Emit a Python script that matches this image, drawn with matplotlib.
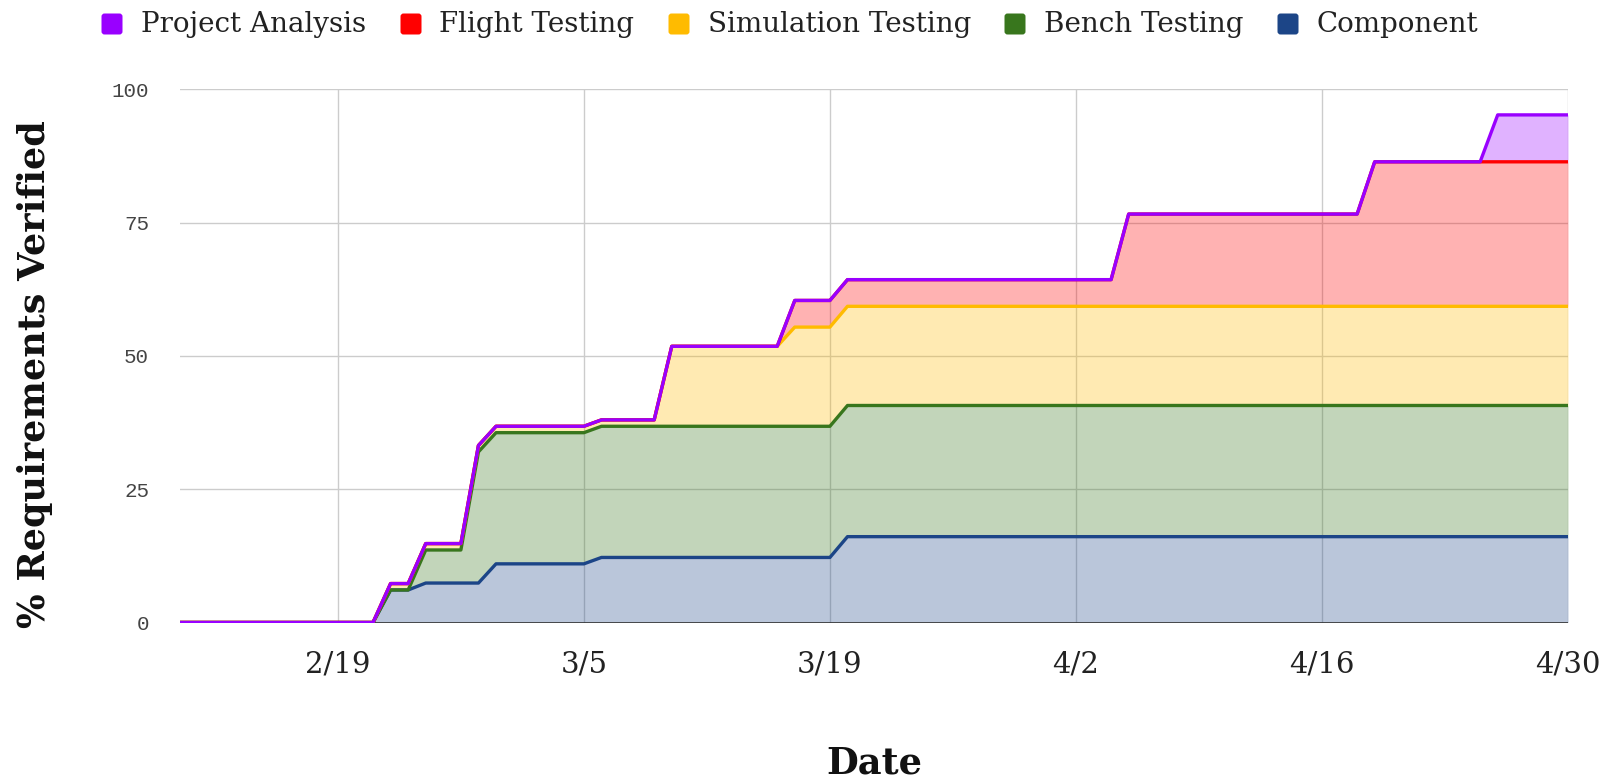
import matplotlib
matplotlib.use("Agg")
import matplotlib.pyplot as plt
from matplotlib.patches import FancyBboxPatch
import numpy as np
import pandas as pd

# ---- data (percent of requirements verified, per verification method) ----
dates = ["2019-02-10", "2019-02-21", "2019-02-22", "2019-02-23", "2019-02-24",
         "2019-02-26", "2019-02-27", "2019-02-28", "2019-03-05", "2019-03-06",
         "2019-03-09", "2019-03-10", "2019-03-16", "2019-03-17", "2019-03-19",
         "2019-03-20", "2019-04-04", "2019-04-05", "2019-04-18", "2019-04-19",
         "2019-04-25", "2019-04-26", "2019-04-30"]

component = [0, 0, 6.1, 6.1, 7.4, 7.4, 7.4, 11.0, 11.0, 12.2,
             12.2, 12.2, 12.2, 12.2, 12.2, 16.1, 16.1, 16.1, 16.1, 16.1,
             16.1, 16.1, 16.1]
bench = [0, 0, 0, 0, 6.2, 6.2, 24.6, 24.6, 24.6, 24.6,
         24.6, 24.6, 24.6, 24.6, 24.6, 24.6, 24.6, 24.6, 24.6, 24.6,
         24.6, 24.6, 24.6]
simulation = [0, 0, 1.2, 1.2, 1.2, 1.2, 1.2, 1.2, 1.2, 1.2,
              1.2, 15.0, 15.0, 18.6, 18.6, 18.6, 18.6, 18.6, 18.6, 18.6,
              18.6, 18.6, 18.6]
flight = [0, 0, 0, 0, 0, 0, 0, 0, 0, 0,
          0, 0, 0, 5.0, 5.0, 5.0, 5.0, 17.3, 17.3, 27.1,
          27.1, 27.1, 27.1]
project = [0, 0, 0, 0, 0, 0, 0, 0, 0, 0,
           0, 0, 0, 0, 0, 0, 0, 0, 0, 0,
           0, 8.8, 8.8]

series_names = ["Component", "Bench Testing", "Simulation Testing",
                "Flight Testing", "Project Analysis"]
series_colors = ["#1c4587", "#38761d", "#ffbb00", "#ff0000", "#9900ff"]

x_ticks = ["2019-02-19", "2019-03-05", "2019-03-19", "2019-04-02",
           "2019-04-16", "2019-04-30"]
x_tick_labels = ["2/19", "3/5", "3/19", "4/2", "4/16", "4/30"]
y_ticks = [0, 25, 50, 75, 100]

# ---- figure ----
W, H = 1610, 782
fig = plt.figure(figsize=(W / 100, H / 100), dpi=100)
ax = fig.add_axes([179.7 / W, 1 - 622.5 / H, (1568 - 179.7) / W, (622.5 - 89.3) / H])

x = pd.to_datetime(dates)
values = np.array([component, bench, simulation, flight, project], dtype=float)
tops = np.cumsum(values, axis=0)

lower = np.zeros(len(x))
for i, col in enumerate(series_colors):
    ax.fill_between(x, lower, tops[i], color=col, alpha=0.3, linewidth=0, zorder=2)
    lower = tops[i]
ax.axhline(0, color="#333333", lw=1.2, zorder=3)
for i, col in enumerate(series_colors):
    ax.plot(x, tops[i], color=col, lw=2.4, solid_joinstyle="round", zorder=4 + i)

ax.set_xlim(pd.Timestamp("2019-02-10"), pd.Timestamp("2019-04-30"))
ax.set_ylim(0, 100)
ax.set_xticks(pd.to_datetime(x_ticks))
ax.set_xticklabels(x_tick_labels, family="DejaVu Serif", fontsize=21, color="#222222")
ax.set_yticks(y_ticks)
ax.set_yticklabels([str(v) for v in y_ticks], family="Liberation Mono",
                   fontsize=15, color="#444444")
ax.tick_params(axis="x", length=0, pad=20)
ax.tick_params(axis="y", length=0, pad=22)
ax.grid(True, color="#cccccc", lw=1.0, zorder=0)
ax.set_axisbelow(True)
for s in ax.spines.values():
    s.set_visible(False)

# axis titles
fig.text(35 / W, 1 - 374.5 / H, "% Requirements Verified", rotation=90,
         ha="center", va="center", family="DejaVu Serif", fontweight="bold",
         fontsize=26.3, color="#111111")
fig.text(874 / W, 1 - 763 / H, "Date", ha="center", va="center",
         family="DejaVu Serif", fontweight="bold", fontsize=26.5, color="#111111")

# legend row (top), drawn in reverse stacking order
legend_marker_x = [112, 411, 679, 1015, 1288]
legend_text_x = [141, 439, 708, 1044, 1316]
legend_y = 24
msize = 21
for k, idx in enumerate(range(len(series_names) - 1, -1, -1)):
    cx = legend_marker_x[k]
    patch = FancyBboxPatch((cx - msize / 2, H - legend_y - msize / 2), msize, msize,
                           boxstyle="round,pad=0,rounding_size=3",
                           facecolor=series_colors[idx], edgecolor="none",
                           transform=None)
    fig.add_artist(patch)
    fig.text(legend_text_x[k] / W, 1 - (legend_y + 1) / H, series_names[idx],
             ha="left", va="center", family="DejaVu Serif", fontsize=20,
             color="#222222")

fig.savefig("out.png", dpi=100)
